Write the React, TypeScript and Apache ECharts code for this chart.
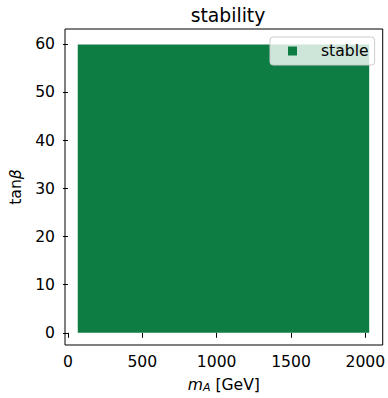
import React, { useEffect, useRef } from "react";
import * as echarts from "echarts";

const seriesName = "stable";
const regionX: number[] = [66, 2026];
const regionY: number[] = [0, 60];
const xTicks: number[] = [0, 500, 1000, 1500, 2000];
const yTicks: number[] = [0, 10, 20, 30, 40, 50, 60];
const xRange: number[] = [-19.8, 2117];
const yRange: number[] = [-2.54, 63.2];

const FONT = "DejaVu Sans";
const GREEN = "#0d7d43";
const FS = 15.6;

export default function App() {
  const ref = useRef<HTMLDivElement>(null);
  useEffect(() => {
    if (!ref.current) return;
    const chart = echarts.init(ref.current, undefined, { renderer: "svg" });
    chart.setOption({
      animation: false,
      backgroundColor: "#ffffff",
      title: {
        text: "stability",
        left: 223,
        top: 1,
        textAlign: "center",
        textStyle: { fontFamily: FONT, fontSize: 18.8, fontWeight: "normal", color: "#000" },
      },
      legend: {
        data: [seriesName],
        left: 270,
        top: 37,
        orient: "vertical",
        icon: "rect",
        itemWidth: 9,
        itemHeight: 9,
        padding: [6, 6, 6, 18],
        backgroundColor: "rgba(255,255,255,0.8)",
        borderColor: "#cccccc",
        borderWidth: 1,
        borderRadius: 3,
        textStyle: { fontFamily: FONT, fontSize: FS, color: "#000", padding: [0, 0, 0, 19] },
      },
      grid: {
        left: 62,
        right: 2,
        top: 29,
        bottom: 50,
        show: true,
        borderColor: "#000",
        borderWidth: 1,
        backgroundColor: "transparent",
      },
      xAxis: {
        type: "value",
        min: xRange[0],
        max: xRange[1],
        name: "{i|m}{s|A} [GeV]",
        nameLocation: "middle",
        nameGap: 31,
        nameTextStyle: {
          fontFamily: FONT,
          fontSize: FS,
          color: "#000",
          rich: {
            i: { fontFamily: FONT, fontSize: FS, fontStyle: "italic", color: "#000" },
            s: { fontFamily: FONT, fontSize: 11, fontStyle: "italic", color: "#000", verticalAlign: "bottom", padding: [6, 0, 0, 0] },
          },
        },
        splitLine: { show: false },
        axisLine: { show: false },
        axisTick: { show: true, length: 5, lineStyle: { color: "#000" }, customValues: xTicks },
        axisLabel: {
          customValues: xTicks,
          margin: 9,
          fontFamily: FONT,
          fontSize: FS,
          color: "#000",
          formatter: (v: number) => String(v),
        },
      },
      yAxis: {
        type: "value",
        min: yRange[0],
        max: yRange[1],
        name: "tan{b|β}",
        nameLocation: "middle",
        nameRotate: 90,
        nameGap: 41,
        nameTextStyle: {
          fontFamily: FONT,
          fontSize: FS,
          color: "#000",
          rich: { b: { fontFamily: FONT, fontSize: FS, fontStyle: "italic", color: "#000" } },
        },
        splitLine: { show: false },
        axisLine: { show: false },
        axisTick: { show: true, length: 5, lineStyle: { color: "#000" }, customValues: yTicks },
        axisLabel: {
          customValues: yTicks,
          margin: 10,
          fontFamily: FONT,
          fontSize: FS,
          color: "#000",
          formatter: (v: number) => String(v),
        },
      },
      series: [
        {
          name: seriesName,
          type: "custom",
          itemStyle: { color: GREEN },
          data: [[regionX[0], regionX[1], regionY[0], regionY[1]]],
          encode: { x: [0, 1], y: [2, 3] },
          renderItem: (params: any, api: any) => {
            const p0 = api.coord([api.value(0), api.value(3)]);
            const p1 = api.coord([api.value(1), api.value(2)]);
            return {
              type: "rect",
              shape: { x: p0[0], y: p0[1], width: p1[0] - p0[0], height: p1[1] - p0[1] },
              style: { fill: GREEN },
            };
          },
        },
      ],
    });
    return () => chart.dispose();
  }, []);
  return <div ref={ref} style={{ width: 388, height: 398, position: "absolute", left: 0, top: 0 }} />;
}
